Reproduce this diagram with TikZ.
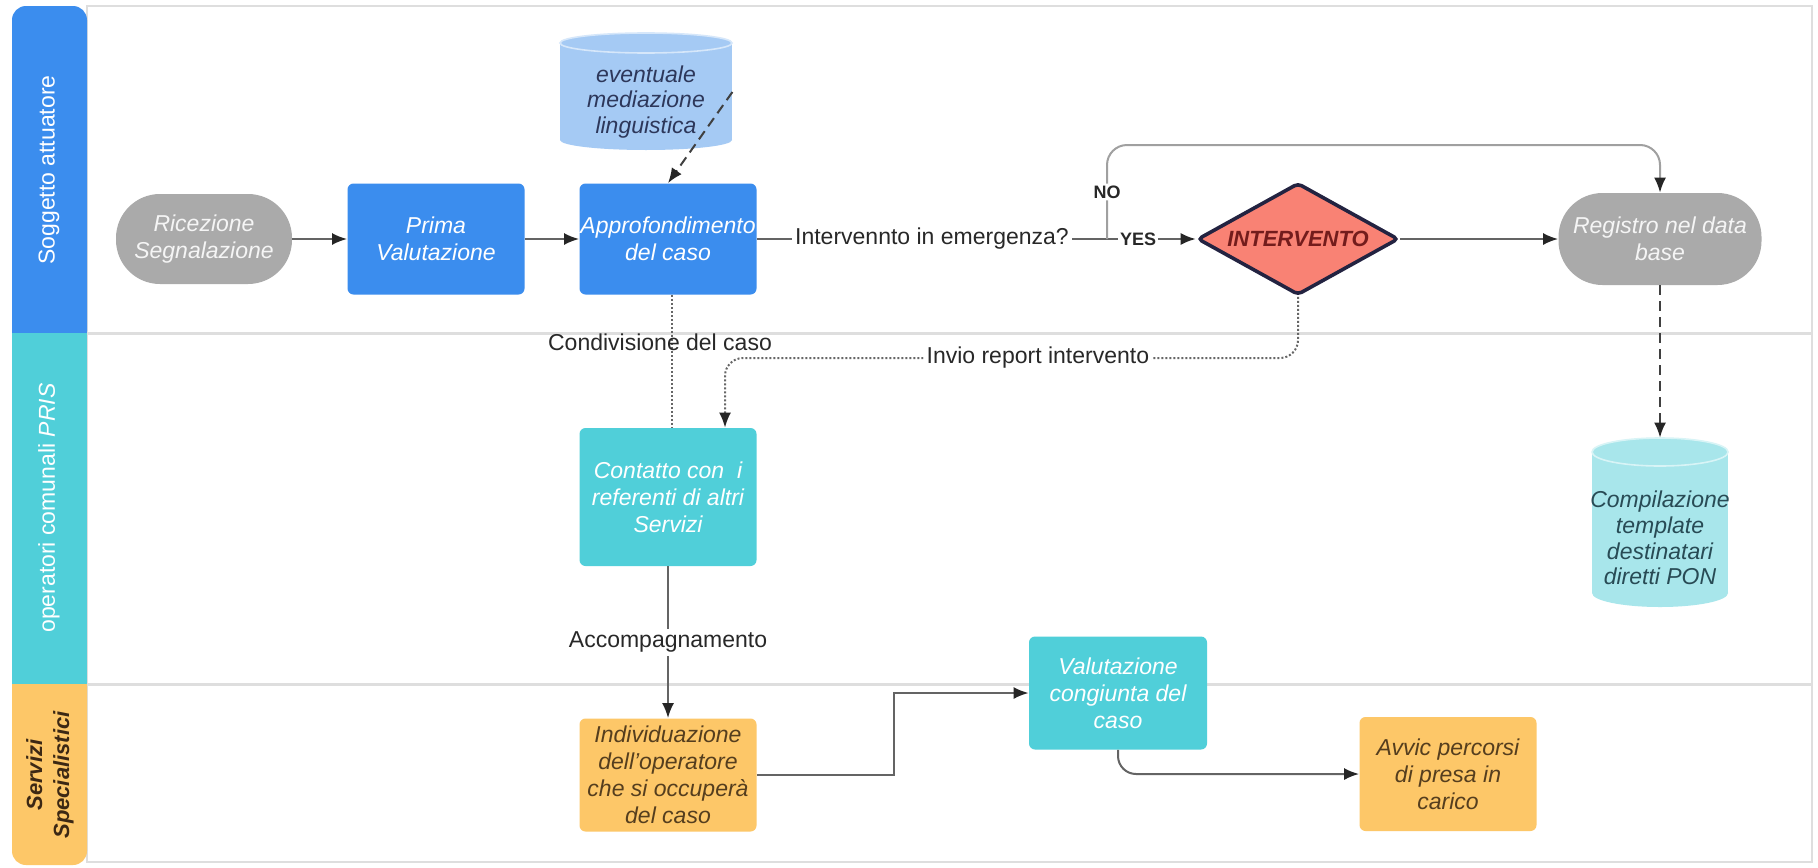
\documentclass[tikz,border=0pt]{standalone}
\usepackage{fontspec}
\setmainfont{Liberation Sans}
\usetikzlibrary{arrows.meta,shapes.geometric}
\definecolor{cblue}{RGB}{59,141,238}
\definecolor{cteal}{RGB}{80,207,217}
\definecolor{corange}{RGB}{253,199,104}
\definecolor{cgray}{RGB}{170,170,170}
\definecolor{cmed}{RGB}{165,202,244}
\definecolor{ccomp}{RGB}{168,230,235}
\definecolor{csalmon}{RGB}{249,130,116}
\definecolor{cnavy}{RGB}{35,35,65}
\definecolor{cdred}{RGB}{115,28,28}
\definecolor{cbrown}{RGB}{85,62,30}
\definecolor{cline}{RGB}{100,100,100}
\definecolor{clight}{RGB}{160,160,160}
\definecolor{cframe}{RGB}{222,222,222}
\definecolor{cmedtxt}{RGB}{45,55,90}
\definecolor{ccomptxt}{RGB}{40,75,85}
\definecolor{clbl}{RGB}{40,40,40}
\definecolor{cdark}{RGB}{60,40,20}
% cylinder: #1 cx, #2 top y, #3 bottom y, #4 half width, #5 ellipse ry, #6 fill
\newcommand\dbcyl[6]{%
  \fill[#6] (#1-#4,#2+#5) rectangle (#1+#4,#3-#5);
  \fill[#6] (#1,#3-#5) ellipse [x radius=#4*0.5pt, y radius=#5*0.5pt];
  \fill[#6] (#1,#2+#5) ellipse [x radius=#4*0.5pt, y radius=#5*0.5pt];
  \draw[white!55!#6, line width=0.8pt] (#1,#2+#5) ellipse [x radius=#4*0.5pt, y radius=#5*0.5pt];
}
\begin{document}
\begin{tikzpicture}[x=0.5pt,y=-0.5pt,
  every node/.style={font=\fontsize{11.5}{13.5}\selectfont},
  box/.style={rectangle, rounded corners=3pt, minimum width=88.5pt, minimum height=55.5pt,
    align=center, inner xsep=1pt, inner ysep=1pt, font=\fontsize{11.5}{13.5}\selectfont\itshape},
  bbox/.style={box, fill=cblue, text=white},
  tbox/.style={box, fill=cteal, text=white},
  obox/.style={box, fill=corange, text=cbrown},
  term/.style={box, rounded corners=22pt, fill=cgray, text=white!92!gray},
  dec/.style={diamond, fill=csalmon, draw=cnavy, line width=1.8pt, rounded corners=2pt,
    minimum width=100.5pt, minimum height=56pt, aspect=2, inner sep=0pt, text=cdred,
    font=\fontsize{11}{13.5}\selectfont\bfseries\itshape},
  cyltxt/.style={align=center, inner sep=0pt, font=\fontsize{11.5}{12.8}\selectfont\itshape},
  lanelbl/.style={rotate=90, text=white, font=\fontsize{11.5}{13.5}\selectfont},
  lbl/.style={fill=white, inner sep=1.5pt, text=clbl},
  yn/.style={fill=white, inner sep=1pt, text=clbl, font=\fontsize{9}{10}\selectfont\bfseries},
  line/.style={draw=cline, line width=1pt},
  arr/.style={line, -{Latex[length=7.5pt,width=6pt,color=black!85]}},
  noline/.style={draw=clight, line width=1pt, rounded corners=10pt, -{Latex[length=7.5pt,width=6pt,color=black!85]}},
  dasharr/.style={draw=black!75, line width=1pt, dash pattern=on 5pt off 3pt, -{Latex[length=7.5pt,width=6pt,color=black!85]}},
  dotline/.style={draw=black!60, line width=1pt, densely dotted},
  dotarr/.style={dotline, -{Latex[length=7.5pt,width=6pt,color=black!85]}}
]
\useasboundingbox (0,0) rectangle (1818,867);
\fill[white] (0,0) rectangle (1818,867);

% frame and lanes
\draw[cframe, line width=1pt] (87,6) rectangle (1812,862);
\draw[cframe, line width=1.5pt] (87,333) -- (1812,333);
\draw[cframe, line width=1.5pt] (87,684) -- (1812,684);
\fill[cblue, rounded corners=7pt] (12,6) rectangle (87,345);
\fill[corange, rounded corners=7pt] (12,672) rectangle (87,865);
\fill[cteal] (12,333) rectangle (87,684);
\node[lanelbl] (lane1) at (49,170) {Soggetto attuatore};
\node[lanelbl] (lane2) at (49,508) {operatori comunali \textit{PRIS}};
\node[rotate=90, align=center, text=cdark, font=\fontsize{11}{13.5}\selectfont\bfseries\itshape] (lane3) at (50,775) {Servizi\\Specialistici};

% cylinders
\dbcyl{646}{33}{150}{86}{10}{cmed}
\dbcyl{1660}{438}{607}{68}{14}{ccomp}
\node[cyltxt, text=cmedtxt, minimum width=86pt, minimum height=69pt] (med) at (646,102) {eventuale\\mediazione\\linguistica};
\node[cyltxt, text=ccomptxt, minimum width=68pt, minimum height=100pt] (comp) at (1660,538) {Compilazione\\template\\destinatari\\diretti PON};

% nodes
\node[term, minimum width=88pt, minimum height=45pt] (ric) at (204,239) {Ricezione\\Segnalazione};
\node[bbox] (prima) at (436,239) {Prima\\Valutazione};
\node[bbox, inner xsep=0pt] (appro) at (668,239) {Approfondimento\\del caso};
\node[dec] (dec) at (1298,239) {INTERVENTO};
\node[term, minimum width=101.5pt, minimum height=46pt] (reg) at (1660,239) {Registro nel data\\base};
\node[tbox, minimum height=69pt] (cont) at (668,497) {Contatto con\ \ i\\referenti di altri\\Servizi};
\node[obox, minimum height=56.5pt] (ind) at (668,775) {Individuazione\\dell'operatore\\che si occuperà\\del caso};
\node[tbox, minimum width=89pt, minimum height=56.5pt] (val) at (1118,693) {Valutazione\\congiunta del\\caso};
\node[obox, minimum height=57pt] (avv) at (1448,774) {Avvic percorsi\\di presa in\\carico};

% helper coordinates
\coordinate (jn) at (1107,239);
\coordinate (notop) at (1107,145);
\coordinate (invk) at (725,358);
\coordinate (kink) at (894,693);

% connectors
\draw[arr] (ric) -- (prima);
\draw[arr] (prima) -- (appro);
\draw[dasharr] ([yshift=5pt]med.east) -- (appro.north);
\draw[line] (appro.east) -- node[lbl]{Intervennto in emergenza?} (jn);
\draw[arr] (jn) -- node[yn, pos=0.35]{YES} (dec.west);
\draw[noline] (jn) -- node[yn]{NO} (notop) -| (reg.north);
\draw[arr] (dec) -- (reg);
\draw[dasharr] (reg.south) -- (comp.north);
\draw[dotline] ([xshift=2pt]appro.south) -- node[pos=0.36, xshift=-6pt, text=clbl]{Condivisione del caso} ([xshift=2pt]cont.north);
\draw[dotarr, rounded corners=9pt] (dec.south) |- node[lbl, pos=0.727]{Invio report intervento} (invk) -- (cont.north -| invk);
\draw[arr] (cont.south) -- node[lbl]{Accompagnamento} (ind.north);
\draw[arr] (ind.east) -| (kink) -- (val.west);
\draw[arr, rounded corners=9pt] (val.south) |- (avv.west);
\end{tikzpicture}
\end{document}
